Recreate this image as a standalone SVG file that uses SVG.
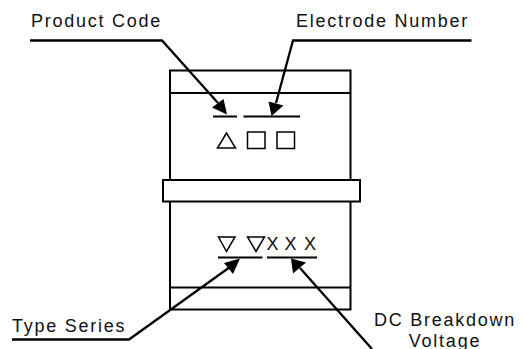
<svg xmlns="http://www.w3.org/2000/svg" width="523" height="349" viewBox="0 0 523 349">
<style>
.l{fill:none;stroke:#000;stroke-width:2}
.c{fill:none;stroke:#000;stroke-width:2.3}
.s{fill:none;stroke:#000;stroke-width:1.5}
.a{fill:#000;stroke:none}
text{font-family:"Liberation Sans",Arial,sans-serif;font-size:18px;letter-spacing:1.75px;fill:#111}
.x{letter-spacing:0}
</style>
<rect width="523" height="349" fill="#fff"/>
<g id="body">
<rect class="l" x="170" y="70.5" width="180.5" height="239"/>
<line class="l" x1="170" y1="93" x2="350.5" y2="93"/>
<line class="l" x1="170" y1="287.5" x2="350.5" y2="287.5"/>
<rect class="l" x="163" y="180" width="197" height="21.5" style="fill:#fff"/>
</g>
<g id="marks-top">
<line class="l" x1="213" y1="116.5" x2="237" y2="116.5"/>
<line class="l" x1="243.5" y1="116.5" x2="300" y2="116.5"/>
<polygon class="s" points="226.5,133 217.5,148 235.500,148"/>
<rect class="s" x="247.5" y="132" width="17.500" height="16.5"/>
<rect class="s" x="277" y="132" width="17.500" height="16.5"/>
</g>
<g id="marks-bottom">
<polygon class="s" points="218.5,237 235,237 226.500,251.500"/>
<polygon class="s" points="247.500,237 264.500,237 256,251.500"/>
<line class="l" x1="218" y1="257.5" x2="262.5" y2="257.5"/>
<line class="l" x1="267" y1="257.5" x2="317" y2="257.5"/>
<text class="x" x="266.500" y="250">X</text><text class="x" x="284.500" y="250">X</text><text class="x" x="304" y="250">X</text>
</g>
<g id="connectors">
<polyline class="c" points="30,40.5 162,40.5 218,103"/>
<polygon class="a" points="227,114.500 212,107.500 223.500,99"/>
<polyline class="c" points="471.5,40.5 293,40.5 276,103"/>
<polygon class="a" points="271.500,116 268.500,101.500 283.500,105.500"/>
<polyline class="c" points="12,339.5 129,339.5 230,267"/>
<polygon class="a" points="240,258.500 224,263 233,274"/>
<polyline class="c" points="372,349 300,268"/>
<polygon class="a" points="291,258.500 293,273.500 306,262.500"/>
</g>
<g id="labels">
<text x="31" y="27">Product Code</text>
<text x="296" y="27">Electrode Number</text>
<text x="12" y="332">Type Series</text>
<text x="445" y="326" text-anchor="middle">DC Breakdown</text>
<text x="445" y="346.500" text-anchor="middle">Voltage</text>
</g>
</svg>
